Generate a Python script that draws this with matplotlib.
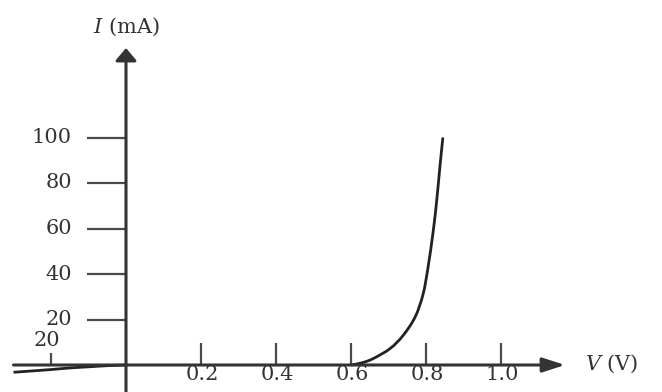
import matplotlib
matplotlib.use("Agg")
import matplotlib.pyplot as plt
from matplotlib.path import Path
from matplotlib.patches import PathPatch

# ---- data ----
forward_V = [0.600, 0.630, 0.659, 0.704, 0.739, 0.771, 0.792, 0.805, 0.819, 0.829, 0.837, 0.845]
forward_I = [0.0, 1.0, 2.8, 7.2, 13.0, 21.1, 31.0, 42.5, 58.5, 73.0, 87.0, 100.0]
reverse_V = [-0.30, -0.25, -0.20, -0.15, -0.10, -0.05, 0.0]
reverse_I = [-3.2, -2.6, -2.0, -1.3, -0.8, -0.3, 0.0]
y_ticks = [20, 40, 60, 80, 100]
y_tick_labels = ["20", "40", "60", "80", "100"]
x_ticks = [0.2, 0.4, 0.6, 0.8, 1.0]
x_tick_labels = ["0.2", "0.4", "0.6", "0.8", "1.0"]
neg_tick = -0.2
neg_tick_label = "20"
x_label = "$V$ (V)"
y_label = "$I$ (mA)"

W, H = 662, 392
px_x = 375.0  # pixels per volt
px_y = 2.275  # pixels per mA
ox, oy = 126, 365

plt.rcParams["mathtext.fontset"] = "dejavuserif"
fig = plt.figure(figsize=(W / 100, H / 100), dpi=100)
ax = fig.add_axes([0, 0, 1, 1])
ax.set_xlim(-ox / px_x, (W - ox) / px_x)
ax.set_ylim(-(H - oy) / px_y, oy / px_y)
ax.axis("off")

axis_col = "#4a4a4a"
font = dict(family="DejaVu Serif", color="#333333")
fs = 15


def smooth_path(xs, ys):
    """Catmull-Rom curve through the data points, drawn as cubic Bezier."""
    pts = list(zip(xs, ys))
    verts = [pts[0]]
    codes = [Path.MOVETO]
    n = len(pts)
    for i in range(n - 1):
        p0 = pts[i - 1] if i > 0 else pts[i]
        p1 = pts[i]
        p2 = pts[i + 1]
        p3 = pts[i + 2] if i + 2 < n else pts[i + 1]
        c1 = (p1[0] + (p2[0] - p0[0]) / 6, p1[1] + (p2[1] - p0[1]) / 6)
        c2 = (p2[0] - (p3[0] - p1[0]) / 6, p2[1] - (p3[1] - p1[1]) / 6)
        verts += [c1, c2, p2]
        codes += [Path.CURVE4] * 3
    return Path(verts, codes)


# axes with arrows
ax.annotate("", xy=((565 - ox) / px_x, 0), xytext=(-0.30, 0),
            arrowprops=dict(arrowstyle="-|>,head_length=0.68,head_width=0.22",
                            lw=2.2, color="#333333", mutation_scale=20,
                            shrinkA=0, shrinkB=0))
ax.annotate("", xy=(0, (oy - 48) / px_y), xytext=(0, -(H - oy) / px_y),
            arrowprops=dict(arrowstyle="-|>,head_length=0.38,head_width=0.32",
                            lw=2.2, color="#333333", mutation_scale=20,
                            shrinkA=0, shrinkB=0))

# y ticks
for t, lab in zip(y_ticks, y_tick_labels):
    ax.plot([-39 / px_x, 0], [t, t], color=axis_col, lw=1.6, solid_capstyle="butt")
    ax.text(-54 / px_x, t, lab, ha="right", va="center", fontsize=fs, **font)

# x ticks
for t, lab in zip(x_ticks, x_tick_labels):
    ax.plot([t, t], [0, 22 / px_y], color=axis_col, lw=1.6, solid_capstyle="butt")
    ax.text(t + 0.003, -10 / px_y, lab, ha="center", va="center", fontsize=fs, **font)

ax.plot([neg_tick, neg_tick], [0, 12 / px_y], color=axis_col, lw=1.6, solid_capstyle="butt")
ax.text(neg_tick - 0.01, 24 / px_y, neg_tick_label, ha="center", va="center", fontsize=fs, **font)

# curves
for xs, ys in ((forward_V, forward_I), (reverse_V, reverse_I)):
    ax.add_patch(PathPatch(smooth_path(xs, ys), facecolor="none",
                           edgecolor="#222222", lw=2.0, capstyle="butt"))

# axis labels
ax.text(0, (oy - 27) / px_y, y_label, ha="center", va="center", fontsize=fs, **font)
ax.text((585 - ox) / px_x, 1 / px_y, x_label, ha="left", va="center", fontsize=fs, **font)

fig.savefig("out.png", dpi=100)
